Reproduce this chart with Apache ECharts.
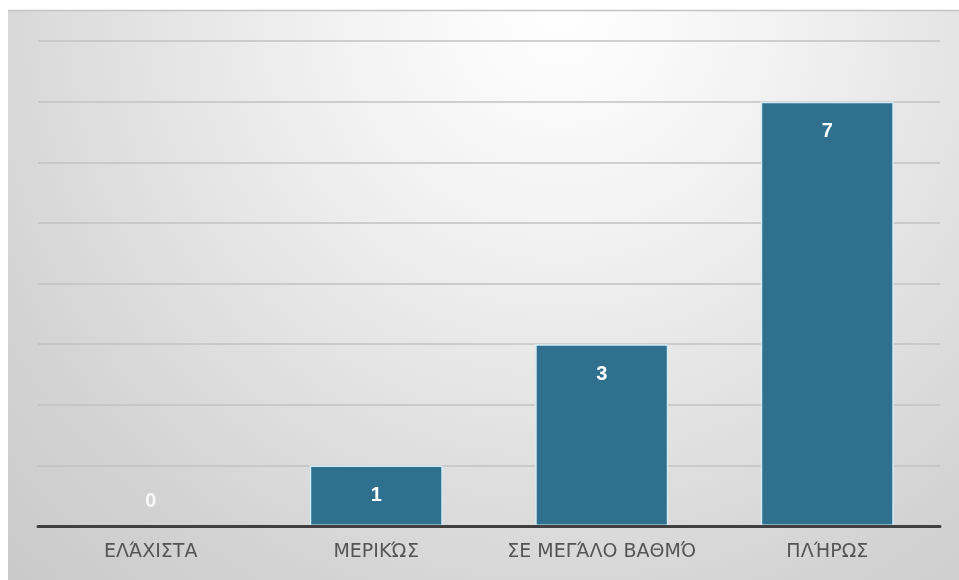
<!DOCTYPE html>
<html>
<head>
<meta charset="utf-8">
<script src="https://cdn.jsdelivr.net/npm/echarts@6/dist/echarts.min.js"></script>
<style>
html,body{margin:0;padding:0;background:#fff;}
#c{width:959px;height:580px;}
</style>
</head>
<body>
<div id="c"></div>
<script>
const categories = ['ΕΛΆΧΙΣΤΑ', 'ΜΕΡΙΚΏΣ', 'ΣΕ ΜΕΓΆΛΟ ΒΑΘΜΌ', 'ΠΛΉΡΩΣ'];
const values = [0, 1, 3, 7];
const yMax = 8;

const chart = echarts.init(document.getElementById('c'));
chart.setOption({
  backgroundColor: '#ffffff',
  animation: false,
  graphic: [
    {
      type: 'rect', z: -10, silent: true,
      shape: { x: 8, y: 10, width: 951, height: 570 },
      style: {
        fill: {
          type: 'radial', x: 0.58, y: 0.0, r: 1.45,
          colorStops: [
            { offset: 0, color: '#ffffff' },
            { offset: 0.25, color: '#f3f3f3' },
            { offset: 0.55, color: '#e0e0e0' },
            { offset: 0.75, color: '#d3d3d3' },
            { offset: 1, color: '#c8c8c8' }
          ]
        }
      }
    },
    {
      type: 'line', z: -9, silent: true,
      shape: { x1: 8, y1: 10.5, x2: 959, y2: 10.5 },
      style: { stroke: '#c4c4c4', lineWidth: 1.5 }
    }
  ],
  grid: { left: 38, right: 19, top: 41, bottom: 54, containLabel: false },
  xAxis: {
    type: 'category',
    data: categories,
    axisLine: { show: true, lineStyle: { color: '#404040', width: 3 } },
    axisTick: { show: false },
    axisLabel: { interval: 0, color: '#555555', fontSize: 19, margin: 17, fontFamily: 'DejaVu Sans' },
    z: 5
  },
  yAxis: {
    type: 'value', min: 0, max: yMax, interval: 1,
    axisLine: { show: false }, axisTick: { show: false }, axisLabel: { show: false },
    splitLine: { lineStyle: { color: '#c2c2c2', width: 1.5 } }
  },
  series: [{
    type: 'bar',
    barWidth: '59%',
    data: values.map(v => v === 0
      ? { value: v, label: { position: 'top', distance: 14, color: 'rgba(255,255,255,0.85)' } }
      : v),
    itemStyle: { color: '#30708f', borderColor: '#d4ecf6', borderWidth: 1.5 },
    label: {
      show: true, position: 'insideTop', distance: 20,
      color: '#ffffff', fontSize: 20, fontWeight: 'bold', fontFamily: 'Liberation Sans'
    }
  }]
});
</script>
</body>
</html>
